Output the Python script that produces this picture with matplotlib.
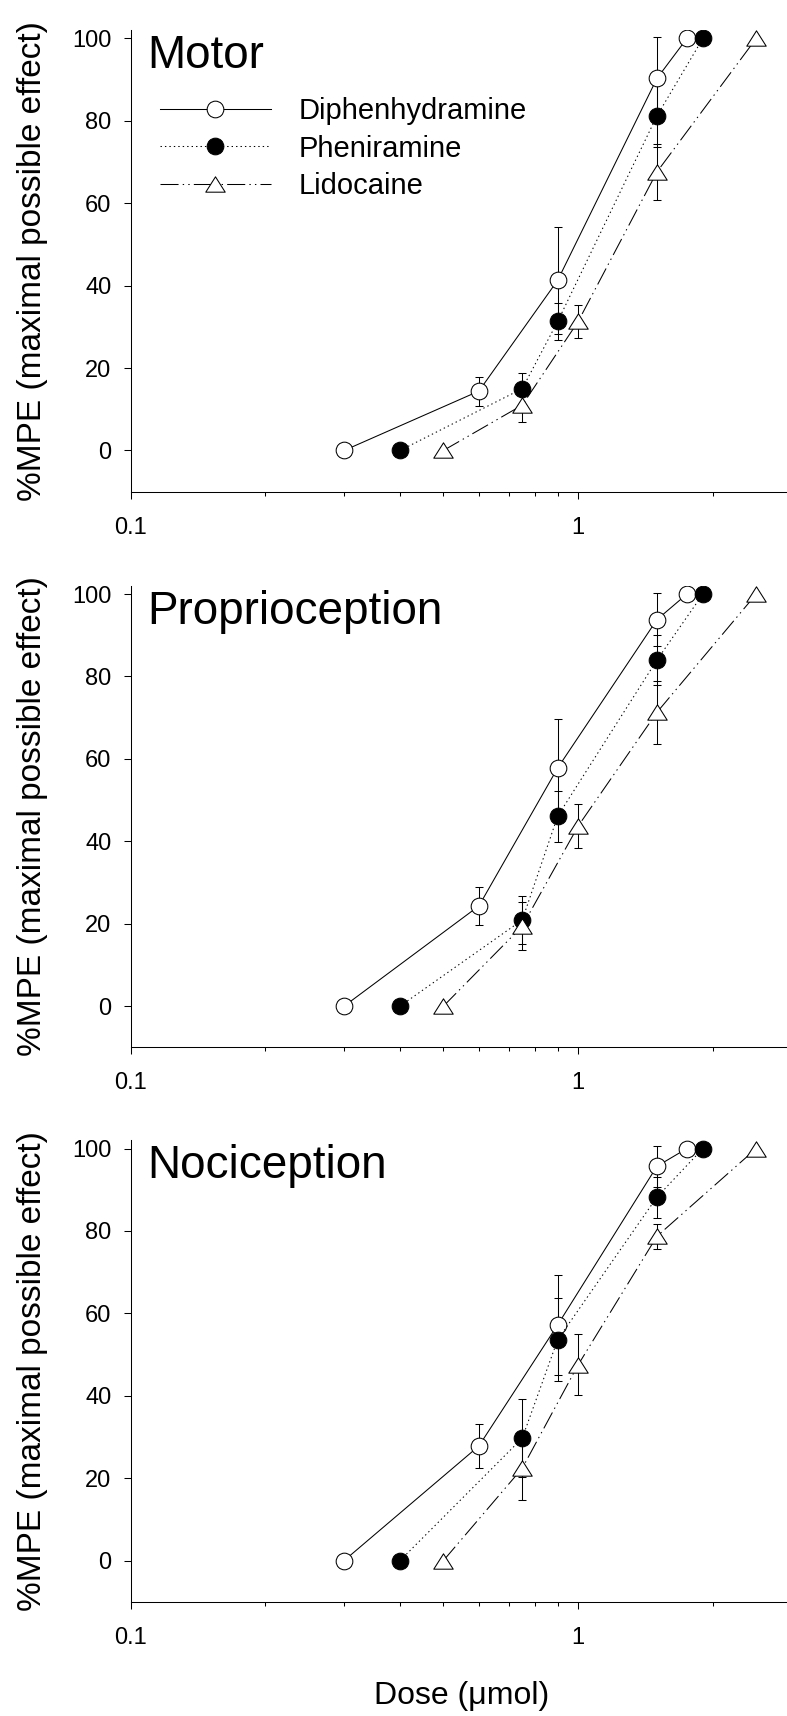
import matplotlib
matplotlib.use('Agg')
import matplotlib.pyplot as plt
from matplotlib.path import Path
from matplotlib.ticker import FixedLocator, FixedFormatter, NullFormatter

plt.rcParams['font.family'] = ['Liberation Sans', 'DejaVu Sans']
plt.rcParams['lines.scale_dashes'] = False

# Doses (umol) for each drug
dose_diph = [0.3, 0.6, 0.9, 1.5, 1.75]
dose_phen = [0.4, 0.75, 0.9, 1.5, 1.9]
dose_lido = [0.5, 0.75, 1.0, 1.5, 2.5]

# %MPE means and SEM, one set per panel
motor_diph = [0, 14.4, 41.3, 90.3, 100]
motor_diph_err = [0, 3.5, 13.0, 10.0, 0]
motor_phen = [0, 15.0, 31.3, 81.2, 100]
motor_phen_err = [0, 3.7, 4.6, 7.5, 0]
motor_lido = [0, 11.0, 31.3, 67.6, 100]
motor_lido_err = [0, 4.0, 4.0, 6.8, 0]

prop_diph = [0, 24.3, 57.8, 93.8, 100]
prop_diph_err = [0, 4.7, 11.8, 6.5, 0]
prop_phen = [0, 20.9, 46.1, 84.0, 100]
prop_phen_err = [0, 5.8, 6.2, 6.0, 0]
prop_lido = [0, 19.4, 43.7, 71.3, 100]
prop_lido_err = [0, 5.8, 5.4, 7.6, 0]

noci_diph = [0, 27.8, 57.2, 95.7, 100]
noci_diph_err = [0, 5.3, 12.2, 5.0, 0]
noci_phen = [0, 29.7, 53.6, 88.2, 100]
noci_phen_err = [0, 9.5, 10.0, 5.0, 0]
noci_lido = [0, 22.4, 47.5, 78.7, 100]
noci_lido_err = [0, 7.7, 7.4, 3.0, 0]

drug_names = ['Diphenhydramine', 'Pheniramine', 'Lidocaine']
panel_titles = ['Motor', 'Proprioception', 'Nociception']
panels = [
    [(motor_diph, motor_diph_err), (motor_phen, motor_phen_err), (motor_lido, motor_lido_err)],
    [(prop_diph, prop_diph_err), (prop_phen, prop_phen_err), (prop_lido, prop_lido_err)],
    [(noci_diph, noci_diph_err), (noci_phen, noci_phen_err), (noci_lido, noci_lido_err)],
]
doses = [dose_diph, dose_phen, dose_lido]

# wide, flat triangle like the original
tri = Path([(0, 0.79), (-1, -0.79), (1, -0.79), (0, 0.79)], closed=True)
styles = [
    dict(ls='-', marker='o', mfc='white', ms=12),
    dict(ls=(0, (1, 2.2)), marker='o', mfc='black', ms=12),
    dict(ls=(0, (13, 3, 1, 3, 1, 3)), marker=tri, mfc='white', ms=14),
]

fig = plt.figure(figsize=(7.87, 17.16), dpi=100)
bottoms = [0.7135, 0.3897, 0.0666]
W, H = 787, 1716

for p, bottom in enumerate(bottoms):
    ax = fig.add_axes([0.1661, bottom, 0.8398, 0.2689])
    handles = []
    for d in range(3):
        y, err = panels[p][d]
        x = doses[d]
        # error bars only where there is a spread
        ex = [xi for xi, e in zip(x, err) if e > 0]
        ey = [yi for yi, e in zip(y, err) if e > 0]
        ee = [e for e in err if e > 0]
        ax.errorbar(ex, ey, yerr=ee, fmt='none', ecolor='black',
                    elinewidth=0.75, capsize=3, capthick=0.75, zorder=2)
        st = styles[d]
        ln, = ax.plot(x, y, color='black', lw=0.75, ls=st['ls'], marker=st['marker'],
                      ms=st['ms'], mfc=st['mfc'], mec='black', mew=0.75,
                      zorder=3 + d * 0.1, label=drug_names[d])
        handles.append(ln)

    ax.set_xscale('log')
    ax.set_xlim(0.1, 3)
    ax.set_ylim(-10, 102)
    ax.xaxis.set_major_locator(FixedLocator([0.1, 1]))
    ax.xaxis.set_major_formatter(FixedFormatter(['0.1', '1']))
    ax.xaxis.set_minor_locator(FixedLocator([0.2, 0.3, 0.4, 0.5, 0.6, 0.7, 0.8, 0.9, 2]))
    ax.xaxis.set_minor_formatter(NullFormatter())
    ax.set_yticks([0, 20, 40, 60, 80, 100])
    ax.tick_params(axis='both', which='major', direction='out', length=5, width=0.75,
                   labelsize=17)
    ax.tick_params(axis='x', which='major', pad=13)
    ax.tick_params(axis='y', which='major', pad=9)
    ax.tick_params(axis='x', which='minor', direction='out', length=3, width=0.75)
    for s in ['top', 'right']:
        ax.spines[s].set_visible(False)
    for s in ['left', 'bottom']:
        ax.spines[s].set_linewidth(0.75)

    ax.text(0.025, 0.918, panel_titles[p], transform=ax.transAxes, fontsize=33,
            ha='left', va='baseline')

    # y label, one per panel
    yc = bottom + 0.2689 / 2
    fig.text(41 / W, yc, '%MPE (maximal possible effect)', rotation=90,
             rotation_mode='anchor', ha='center', va='baseline', fontsize=24)

    if p == 0:
        ax.legend(handles=handles, loc='upper left', bbox_to_anchor=(160 / W, 1 - 97 / H),
                  bbox_transform=fig.transFigure, frameon=False, fontsize=21,
                  numpoints=1, handlelength=3.8, handletextpad=0.95,
                  labelspacing=0.33, borderpad=0, borderaxespad=0)

fig.text(462 / W, 1 - 1704 / H, 'Dose (\u03bcmol)', ha='center', va='baseline', fontsize=23)

fig.savefig('out.png', dpi=100)
